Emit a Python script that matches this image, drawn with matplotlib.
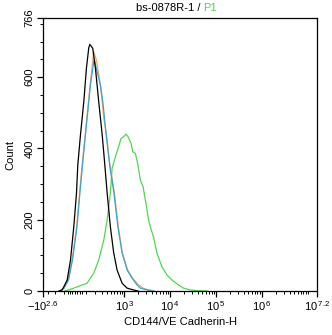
import numpy as np
import matplotlib
matplotlib.use("Agg")
import matplotlib.pyplot as plt

plt.rcParams["font.family"] = ["Liberation Sans", "DejaVu Sans"]
plt.rcParams["mathtext.fontset"] = "custom"
plt.rcParams["mathtext.rm"] = "Liberation Sans"
plt.rcParams["mathtext.default"] = "regular"

# -----------------------------
# DATA  (fluorescence value, event count)
# -----------------------------
black_x = [-150, -114, -66, -37, -9, 14, 25, 48, 78, 103, 127, 138, 172, 206, 253,
           310, 359, 408, 485, 578, 688, 890, 1149, 1579, 2000]
black_y = [0, 3, 31, 87, 180, 275, 354, 438, 531, 625, 682, 692, 681, 625, 531,
           438, 354, 275, 180, 107, 59, 22, 8, 3, 0]

orange_x = [-140, -100, -58, -23, 15, 40, 63, 82, 107, 142, 184, 220, 256, 297,
            343, 394, 471, 600, 735, 900, 1184, 1522, 1957, 2565, 3394, 4500]
orange_y = [0, 8, 31, 87, 180, 275, 354, 410, 485, 578, 671, 648, 606, 550,
            480, 438, 354, 275, 180, 107, 59, 36, 20, 8, 3, 0]

blue_x = [-135, -96, -54, -20, 18, 43, 66, 84, 110, 145, 184, 193, 229, 280, 321,
          387, 467, 585, 719, 890, 1149, 1477, 1898, 2244, 3137, 4300]
blue_y = [0, 8, 31, 87, 180, 275, 354, 410, 485, 578, 643, 648, 615, 578, 531,
          438, 354, 275, 180, 107, 59, 36, 17, 8, 3, 0]

green_x = [-90, -52, -9, 110, 184, 253, 339, 408, 485, 531, 632, 747, 845, 969,
           1080, 1184, 1406, 1522, 1744, 1957, 2244, 2565, 2881, 3137, 3394, 3704,
           4340, 5180, 6630, 8530, 10970, 15250, 19600, 27400, 38300, 63300]
green_y = [0, 3, 8, 22, 50, 87, 143, 199, 275, 344, 377, 405, 428, 433,
           440, 435, 414, 391, 386, 358, 311, 293, 255, 227, 199, 180,
           152, 106, 68, 45, 31, 17, 8, 3, 1, 0]

X_MIN = -10 ** 2.6
X_MAX = 10 ** 7.2
Y_MAX = 766

major_x = [-10 ** 2.6, 1e3, 1e4, 1e5, 1e6, 10 ** 7.2]
major_x_labels = ["$-10^{2.6}$", "$10^{\\,3}$", "$10^{\\,4}$", "$10^{\\,5}$",
                  "$10^{\\,6}$", "$10^{\\,7.2}$"]

# -----------------------------
# FIGURE
# -----------------------------
fig = plt.figure(figsize=(3.32, 3.35), dpi=100)
ax = fig.add_axes([43 / 332, 44 / 335, 274 / 332, 273 / 335])

ax.plot(green_x, green_y, color="#4fd84f", lw=0.9)
ax.plot(orange_x, orange_y, color="#f2a66a", lw=0.9)
ax.plot(blue_x, blue_y, color="#3aa3d2", lw=0.9)
ax.plot(black_x, black_y, color="black", lw=0.9)

ax.set_xscale("asinh", linear_width=168)
ax.set_xlim(X_MIN, X_MAX)
ax.set_ylim(0, Y_MAX)

# x ticks
minor_x = [-300, -200, -100, -60, -40, -20, 0, 20, 40, 60]
for dec in [1e2, 1e3, 1e4, 1e5, 1e6]:
    minor_x += [k * dec for k in range(1 if dec == 1e2 else 2, 10)]
minor_x.append(1e7)
ax.set_xticks(major_x)
ax.set_xticklabels(major_x_labels)
ax.set_xticks(minor_x, minor=True)

# y ticks
ax.set_yticks([0, 200, 400, 600, Y_MAX])
ax.set_yticklabels(["0", "200", "400", "600", "766"], rotation=90, va="center")
ax.set_yticks(np.arange(0, 751, 50), minor=True)

ax.tick_params(axis="both", which="major", direction="out", length=4, width=0.9,
               labelsize=8, pad=2)
ax.tick_params(axis="both", which="minor", direction="out", length=2.5, width=0.7)
for s in ax.spines.values():
    s.set_linewidth(0.9)

ax.set_xlabel("CD144/VE Cadherin-H", fontsize=8, labelpad=3)
ax.set_ylabel("Count", fontsize=8, labelpad=7)

# title with coloured gate name
fig.text(0.612, 0.975, "bs-0878R-1 / ", ha="right", va="center", fontsize=8, color="black")
fig.text(0.612, 0.975, "P1", ha="left", va="center", fontsize=8, color="#4fd84f")

fig.savefig("out.png", dpi=100)
